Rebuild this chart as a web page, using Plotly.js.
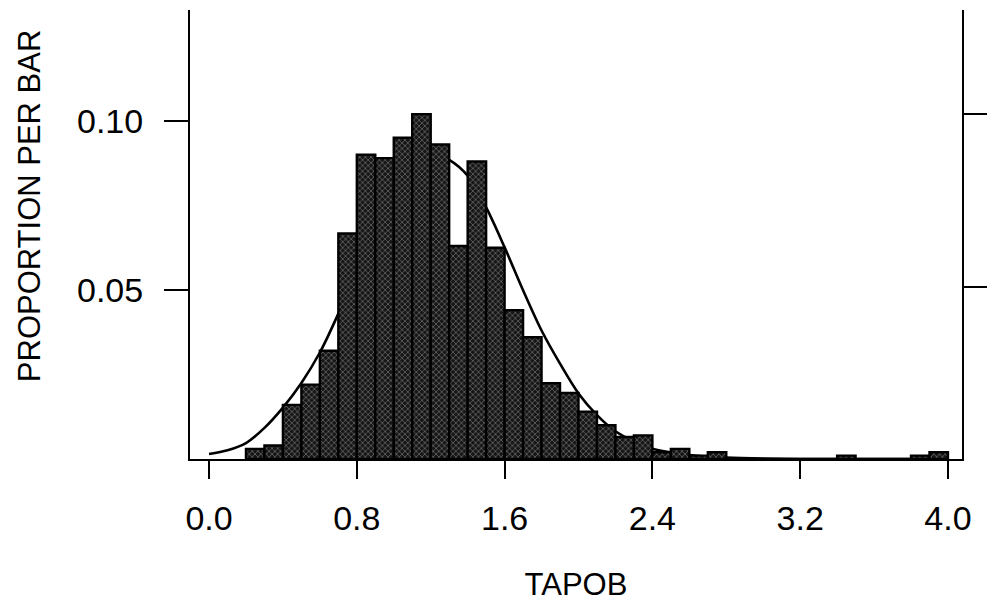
<!DOCTYPE html>
<html>
<head>
<meta charset="utf-8">
<script src="https://cdn.plot.ly/plotly-3.0.1.min.js"></script>
<style>html,body{margin:0;padding:0;background:#fff;}#chart{width:987px;height:613px;}</style>
</head>
<body>
<div id="chart"></div>
<script>
// Histogram bins (left edge) and proportion per bar
var binLeft = [0.2,0.3,0.4,0.5,0.6,0.7,0.8,0.9,1.0,1.1,1.2,1.3,1.4,1.5,1.6,1.7,1.8,1.9,2.0,2.1,2.2,2.3,2.4,2.5,2.6,2.7,2.8,2.9,3.0,3.1,3.2,3.3,3.4,3.5,3.6,3.7,3.8,3.9];
var proportion = [0.003,0.004,0.016,0.022,0.032,0.0667,0.090,0.089,0.095,0.102,0.093,0.063,0.088,0.0625,0.044,0.036,0.0224,0.0195,0.014,0.010,0.0065,0.007,0.002,0.003,0.001,0.002,0,0,0,0,0,0,0.001,0,0,0,0.001,0.002];
var binWidth = 0.1;

// Fitted normal curve
var curveX = [0.0,0.1,0.2,0.3,0.4,0.5,0.6,0.7,0.8,0.9,1.0,1.1,1.2,1.3,1.4,1.5,1.6,1.7,1.8,1.9,2.0,2.1,2.2,2.3,2.4,2.6,2.8,3.2,4.0];
var curveY = [0.0015,0.0026,0.0047,0.0092,0.0152,0.0225,0.0315,0.043,0.056,0.068,0.079,0.087,0.0905,0.0885,0.0838,0.0744,0.0626,0.0499,0.038,0.0282,0.0194,0.013,0.0082,0.0052,0.003,0.0012,0.0004,0.0,0.0];

// Axis ticks
var xTickVals = [0.0,0.8,1.6,2.4,3.2,4.0];
var xTickText = ['0.0','0.8','1.6','2.4','3.2','4.0'];
var yTickVals = [0.05,0.10];
var yTickText = ['0.05','0.10'];
var nCases = 980;          // total count (right axis: count per bar)
var countTicks = [50,100];

var yRange = [0, 0.1328];
var fam = '"Liberation Sans", Arial, Helvetica, sans-serif';
var tickFont = {family:fam, size:34, color:'#000'};

var curve = {
  type:'scatter', mode:'lines', x:curveX, y:curveY,
  xaxis:'x', yaxis:'y',
  line:{color:'#000', width:2.6, shape:'spline', smoothing:0.9},
  hoverinfo:'skip', showlegend:false
};
var bars = {
  type:'bar', x:binLeft, y:proportion, width:binWidth, offset:0,
  xaxis:'x', yaxis:'y2',
  marker:{
    color:'#1a1a1a',
    line:{color:'#000', width:2.4},
    pattern:{shape:'x', fgcolor:'#8c8c8c', bgcolor:'#161616', size:4, solidity:0.25}
  },
  showlegend:false
};

var layout = {
  width:987, height:613,
  margin:{l:190, r:25, t:10, b:154},
  paper_bgcolor:'#fff', plot_bgcolor:'#fff',
  bargap:0,
  xaxis:{
    range:[-0.103, 4.076], tickvals:xTickVals, ticktext:xTickText,
    ticks:'outside', ticklen:18, tickwidth:2, tickcolor:'#000',
    showline:true, linewidth:2, linecolor:'#000', showgrid:false, zeroline:false,
    tickfont:tickFont, ticklabelstandoff:10,
    title:{text:'TAPOB', font:{family:fam, size:31, color:'#000'}, standoff:38}
  },
  yaxis:{
    range:yRange, tickvals:yTickVals, ticktext:yTickText,
    ticks:'outside', ticklen:24, tickwidth:2, tickcolor:'#000',
    showline:true, linewidth:2, linecolor:'#000', showgrid:false, zeroline:false,
    tickfont:tickFont, ticklabelstandoff:14
  },
  yaxis2:{
    overlaying:'y', side:'right', range:yRange,
    tickvals:countTicks.map(function(c){return c/nCases;}),
    showticklabels:false,
    ticks:'outside', ticklen:23, tickwidth:2, tickcolor:'#000',
    showline:true, linewidth:2, linecolor:'#000', showgrid:false, zeroline:false
  },
  annotations:[{
    text:'PROPORTION PER BAR', textangle:-90,
    xref:'paper', yref:'paper', x:-0.207, y:0.5635,
    xanchor:'center', yanchor:'middle', showarrow:false,
    font:{family:fam, size:31, color:'#000'}
  }]
};

Plotly.newPlot('chart', [curve, bars], layout, {staticPlot:true, displayModeBar:false});
</script>
</body>
</html>
